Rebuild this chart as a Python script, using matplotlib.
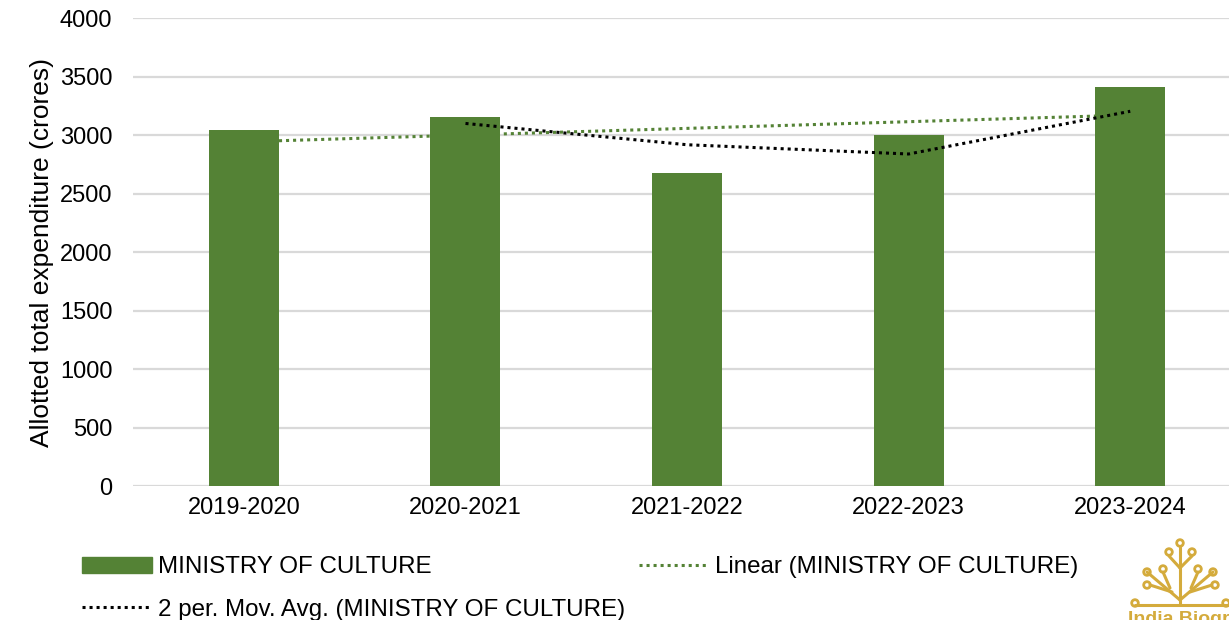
import numpy as np
import matplotlib.pyplot as plt
from matplotlib.patches import Patch, Circle
from matplotlib.lines import Line2D

plt.rcParams['font.family'] = ['Liberation Sans', 'DejaVu Sans']

years = ['2019-2020', '2020-2021', '2021-2022', '2022-2023', '2023-2024']
spend = [3042, 3156, 2678, 2998, 3408]
# trend line and 2 period moving average
trend = [2942, 3000, 3057, 3114, 3171]
mov_avg = [3099, 2917, 2838, 3203]

green = '#548235'
gold = '#d4ab3c'

fig = plt.figure(figsize=(12.29, 6.2), dpi=100)
ax = fig.add_axes([0.1083, 0.2161, 0.9015, 0.7548])

x = np.arange(len(years))
ax.plot(x, trend, color=green, ls=(0, (1, 1.3)), lw=2.2, zorder=2)
ax.bar(x, spend, width=0.316, color=green, zorder=3)
ax.plot(x[1:], mov_avg, color='black', ls=(0, (1, 1.3)), lw=2.2, zorder=4)

ax.set_xlim(-0.5, 4.5)
ax.set_ylim(0, 4000)
ax.set_yticks(np.arange(0, 4001, 500))
ax.set_xticks(x)
ax.set_xticklabels(years)
ax.tick_params(length=0, labelsize=17, pad=8)
ax.tick_params(axis='y', pad=15)
ax.grid(axis='y', color='#d9d9d9', lw=1.6, zorder=0)
for s in ax.spines.values():
    s.set_visible(False)
ax.set_ylabel('Allotted total expenditure (crores)', fontsize=19, labelpad=4)

handles = [Patch(color=green),
           Line2D([], [], color='black', ls=(0, (1, 1.3)), lw=2.2),
           Line2D([], [], color=green, ls=(0, (1, 1.3)), lw=2.2)]
labels = ['MINISTRY OF CULTURE', '2 per. Mov. Avg. (MINISTRY OF CULTURE)',
          'Linear (MINISTRY OF CULTURE)']
fig.legend(handles, labels, ncol=2, loc='upper left', bbox_to_anchor=(0.0566, 0.1225),
           frameon=False, fontsize=17.4, handlelength=2.9, handleheight=0.65,
           handletextpad=0.27, columnspacing=0.55, labelspacing=0.85, borderpad=0)

# watermark logo
lg = fig.add_axes([1130 / 1229, 0, 99 / 1229, 95 / 620])
lg.set_xlim(1130, 1229)
lg.set_ylim(620, 525)
lg.axis('off')
stem = 1180
segs = [((stem, 547), (stem, 605)), ((1135, 605), (1229, 605)),
        ((1169, 556), (stem, 568)), ((1192, 556), (stem, 568)),
        ((1147, 572), (stem, 600)), ((1163, 572), (1170, 588)),
        ((1213, 572), (stem, 600)), ((1198, 572), (1191, 588)),
        ((1150, 585), (1172, 592)), ((1212, 585), (1190, 592))]
for a, b in segs:
    lg.plot([a[0], b[0]], [a[1], b[1]], color=gold, lw=2.2, solid_capstyle='round')
for cx, cy in [(stem, 543), (1169, 552), (1192, 552), (1147, 572), (1163, 569),
               (1198, 569), (1213, 572), (1147, 585), (1215, 585), (1135, 603),
               (1226, 603)]:
    lg.add_patch(Circle((cx, cy), 3.3, fc='white', ec=gold, lw=2))
fig.text(1128 / 1229, 1 / 620, 'India Biographies', color=gold, fontsize=14,
         fontweight='bold', va='center', ha='left', clip_on=False)

fig.savefig('out.png', dpi=100)
